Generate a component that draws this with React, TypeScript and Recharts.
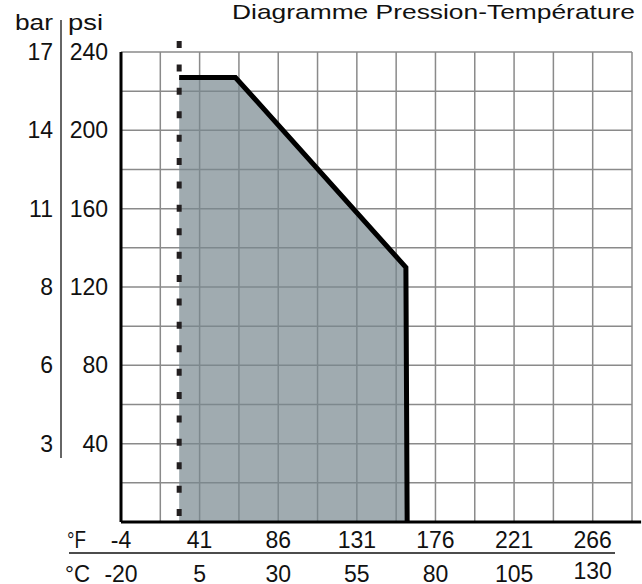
import { Area, CartesianGrid, ComposedChart, ReferenceLine, XAxis, YAxis } from "recharts"

// axis labels
const celsiusTicks = [-20, 5, 30, 55, 80, 105, 130]
const fahrenheitTicks = [-4, 41, 86, 131, 176, 221, 266]
const psiTicks = [240, 200, 160, 120, 80, 40]
const barTicks = [17, 14, 11, 8, 6, 3]

// grid steps (12.5 °C, 20 psi)
const gridC = [-20, -7.5, 5, 17.5, 30, 42.5, 55, 67.5, 80, 92.5, 105, 117.5, 130, 142.5]
const gridPsi = [0, 20, 40, 60, 80, 100, 120, 140, 160, 180, 200, 220, 240]

// pressure / temperature limit curve
const limitC = [-1.5, 16.4, 70.6, 71]
const limitPsi = [227, 227, 130, 0]
const minTempC = -1.5

const data = limitC.map((t, i) => ({ t, p: limitPsi[i] }))

const font = "'Liberation Sans', Arial, sans-serif"

function XTick({ x, payload }: any) {
  const i = celsiusTicks.indexOf(payload.value)
  if (i < 0) return null
  return (
    <g fontFamily={font} fontSize={23} fill="#111">
      <text x={x} y={548} textAnchor="middle">{fahrenheitTicks[i]}</text>
      <text x={x} y={i === celsiusTicks.length - 1 ? 579 : 582} textAnchor="middle">{celsiusTicks[i]}</text>
    </g>
  )
}

function YTick({ y, payload }: any) {
  const i = psiTicks.indexOf(payload.value)
  if (i < 0) return null
  return (
    <g fontFamily={font} fontSize={23} fill="#111">
      <text x={108} y={y + 8} textAnchor="end">{psiTicks[i]}</text>
      <text x={53} y={y + 8} textAnchor="end">{barTicks[i]}</text>
    </g>
  )
}

export default function App() {
  return (
    <div style={{ position: "absolute", left: 0, top: 0, width: 642, height: 584, background: "#fff" }}>
      <ComposedChart width={642} height={584} data={data} margin={{ top: 52, right: 10, bottom: 0, left: 61 }}>
        <CartesianGrid stroke="#8a8a8a" strokeWidth={1.5} horizontalValues={gridPsi} verticalValues={gridC} />
        <XAxis
          dataKey="t"
          type="number"
          domain={[-20, 142.5]}
          ticks={gridC}
          interval={0}
          height={62}
          axisLine={false}
          tickLine={false}
          tick={<XTick />}
        />
        <YAxis
          type="number"
          domain={[0, 240]}
          ticks={gridPsi}
          interval={0}
          width={60}
          axisLine={{ stroke: "#000", strokeWidth: 3 }}
          tickLine={false}
          tick={<YTick />}
        />
        <Area
          type="linear"
          dataKey="p"
          stroke="#000"
          strokeWidth={5}
          fill="#77878e"
          fillOpacity={0.7}
          isAnimationActive={false}
        />
        <ReferenceLine
          segment={[{ x: minTempC, y: 245.6 }, { x: minTempC, y: 0 }]}
          stroke="#231f20"
          strokeWidth={5}
          strokeDasharray="7 16.4"
          ifOverflow="visible"
        />
        <ReferenceLine
          segment={[{ x: -20, y: 0 }, { x: 145.4, y: 0 }]}
          stroke="#000"
          strokeWidth={3}
          ifOverflow="visible"
        />
      </ComposedChart>
      <svg width={642} height={584} style={{ position: "absolute", left: 0, top: 0, pointerEvents: "none" }}>
        <g fontFamily={font} fill="#111">
          <text x={232} y={19} fontSize={21} textLength={403} lengthAdjust="spacingAndGlyphs">
            Diagramme Pression-Température
          </text>
          <text x={15} y={30} fontSize={22} textLength={38} lengthAdjust="spacingAndGlyphs">bar</text>
          <text x={68} y={30} fontSize={22} textLength={35} lengthAdjust="spacingAndGlyphs">psi</text>
          <text x={67} y={548} fontSize={23} textLength={19} lengthAdjust="spacingAndGlyphs">°F</text>
          <text x={65} y={582} fontSize={23} textLength={25} lengthAdjust="spacingAndGlyphs">°C</text>
        </g>
        <line x1={61} y1={20} x2={61} y2={458} stroke="#333" strokeWidth={1.5} />
        <line x1={69} y1={553} x2={615} y2={553} stroke="#111" strokeWidth={1.5} />
      </svg>
    </div>
  )
}
